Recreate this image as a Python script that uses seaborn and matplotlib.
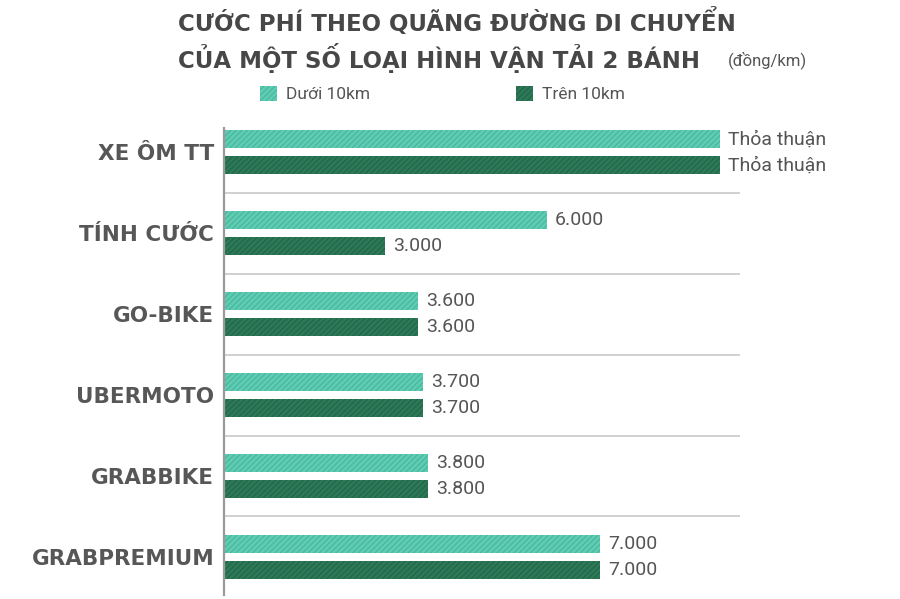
import pandas as pd
import seaborn as sns
import matplotlib.pyplot as plt

# Data (đồng/km)
categories = ["XE ÔM TT", "TÍNH CƯỚC", "GO-BIKE", "UBERMOTO", "GRABBIKE", "GRABPREMIUM"]
series_names = ["Dưới 10km", "Trên 10km"]
under_10km = [9230, 6000, 3600, 3700, 3800, 7000]   # first one is "negotiated", drawn as a long bar
over_10km = [9230, 3000, 3600, 3700, 3800, 7000]
under_labels = ["Thỏa thuận", "6.000", "3.600", "3.700", "3.800", "7.000"]
over_labels = ["Thỏa thuận", "3.000", "3.600", "3.700", "3.800", "7.000"]

FACE = ["#50dbbb", "#22845a"]
HATCH = ["#36b497", "#176342"]
TEXT = "#555555"
BOLD_FONT = ["DejaVu Sans"]

df = pd.DataFrame({
    "loai": categories * 2,
    "muc": [series_names[0]] * len(categories) + [series_names[1]] * len(categories),
    "gia": under_10km + over_10km,
})

sns.set_theme(style="white")
plt.rcParams["font.family"] = ["Roboto", "DejaVu Sans"]
plt.rcParams["hatch.linewidth"] = 0.6

fig = plt.figure(figsize=(9, 5.99), dpi=100)
ax = fig.add_axes([224 / 900, 1 - 595 / 599, 516 / 900, (595 - 128) / 599])

sns.barplot(data=df, y="loai", x="gia", hue="muc", orient="h",
            palette=FACE, width=0.64, gap=0.31, ax=ax, legend=True)

for cont, hc in zip(ax.containers, HATCH):
    for bar in cont:
        bar.set_hatch("//////")
        bar.set_edgecolor(hc)
        bar.set_linewidth(0)

for cont, labs in zip(ax.containers, [under_labels, over_labels]):
    ax.bar_label(cont, labels=labs, padding=6, fontsize=14, color=TEXT)

ax.set_xlim(0, 9600)
ax.set_ylim(5.47, -0.3)
ax.set_xlabel("")
ax.set_ylabel("")
ax.set_xticks([])
ax.tick_params(axis="y", length=0, pad=7)
for lab in ax.get_yticklabels():
    lab.set_fontsize(15.5)
    lab.set_fontweight("bold")
    lab.set_family(BOLD_FONT)
    lab.set_color("#575757")

for s in ["top", "right", "bottom"]:
    ax.spines[s].set_visible(False)
ax.spines["left"].set_color("#9a9a9a")
ax.spines["left"].set_linewidth(1.6)

for y in [0.5, 1.5, 2.5, 3.5, 4.5]:
    ax.axhline(y, color="#c4c4c4", linewidth=1.1, zorder=0)

handles, labels = ax.get_legend_handles_labels()
ax.get_legend().remove()
for h, hc in zip(handles, HATCH):
    h.set_hatch("//////")
    h.set_edgecolor(hc)
    h.set_linewidth(0)
fig.legend(handles, labels, ncol=2, frameon=False, loc="center left",
           bbox_to_anchor=(244 / 900, 1 - 94 / 599), fontsize=12.5,
           handlelength=1.0, handleheight=1.0, handletextpad=0.5,
           columnspacing=8.4, labelcolor=TEXT)

fig.text(178 / 900, 1 - 22 / 599, "CƯỚC PHÍ THEO QUÃNG ĐƯỜNG DI CHUYỂN",
         fontsize=16.5, fontweight="bold", family=BOLD_FONT, color="#474747",
         va="center", ha="left")
fig.text(178 / 900, 1 - 58 / 599, "CỦA MỘT SỐ LOẠI HÌNH VẬN TẢI 2 BÁNH",
         fontsize=16.5, fontweight="bold", family=BOLD_FONT, color="#474747",
         va="center", ha="left")
fig.text(728 / 900, 1 - 60 / 599, "(đồng/km)", fontsize=12, color=TEXT,
         va="center", ha="left")

fig.savefig("out.png", dpi=100)
